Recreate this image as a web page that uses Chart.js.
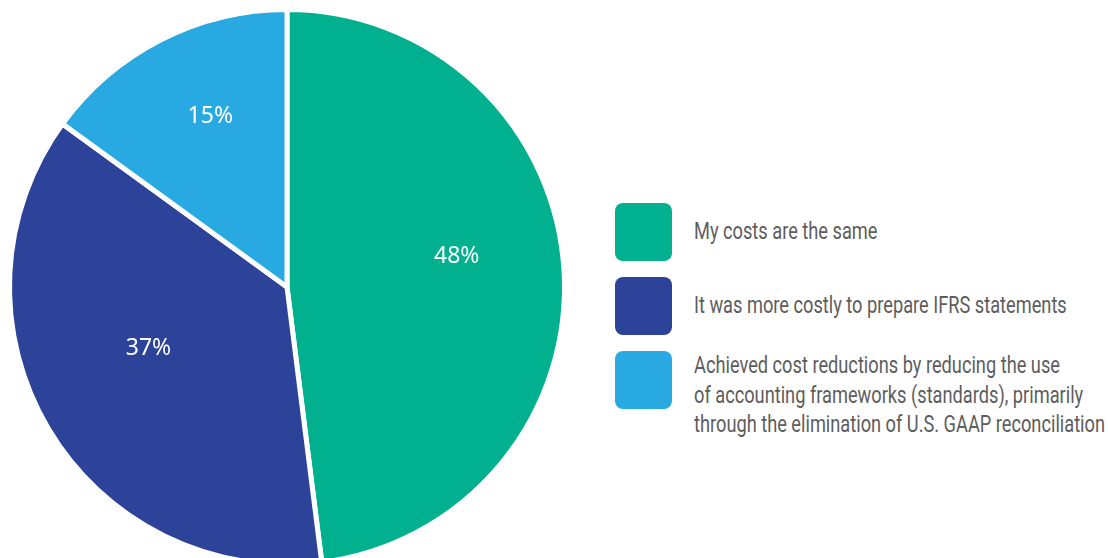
<!DOCTYPE html>
<html>
<head>
<meta charset="utf-8">
<script src="https://cdn.jsdelivr.net/npm/chart.js@4"></script>
<style>
  html, body { margin: 0; padding: 0; width: 1108px; height: 558px; overflow: hidden; background: #fff; }
  #pieWrap { position: absolute; left: 0; top: 0; width: 574px; height: 574px; }
  #legend { position: absolute; left: 615px; top: 203px; }
  .item { position: relative; height: 74px; }
  .sw { position: absolute; left: 0; top: 0; width: 57px; height: 58px; border-radius: 8px; }
  .txt { position: absolute; left: 79px; color: #5d5d5d;
         font-family: Roboto, "Noto Sans", sans-serif;
         font-size: 24px; line-height: 29.5px; white-space: nowrap; transform-origin: 0 0; }
</style>
</head>
<body>
<div id="pieWrap"><canvas id="c"></canvas></div>
<div id="legend"></div>
<script>
const categories = [
  ["My costs are the same"],
  ["It was more costly to prepare IFRS statements"],
  ["Achieved cost reductions by reducing the use", "of accounting frameworks (standards), primarily", "through the elimination of U.S. GAAP reconciliation"]
];
const values = [48, 37, 15];
const colors = ["#00b08f", "#2c4399", "#29a9e1"];

// condensed look: measure the longest line and squeeze horizontally
const mctx = document.createElement('canvas').getContext('2d');
mctx.font = '24px Roboto';
const longest = Math.max(...categories.flat().map(s => mctx.measureText(s).width));
const squeeze = 411 / longest;

const legend = document.getElementById('legend');
categories.forEach((lines, i) => {
  const item = document.createElement('div');
  item.className = 'item';
  const sw = document.createElement('div');
  sw.className = 'sw';
  sw.style.background = colors[i];
  item.appendChild(sw);
  const t = document.createElement('div');
  t.className = 'txt';
  t.style.top = (lines.length === 1 ? 14 : 0) + 'px';
  t.style.transform = 'scaleX(' + squeeze + ')';
  t.innerHTML = lines.join('<br>');
  item.appendChild(t);
  legend.appendChild(item);
});

const pctLabels = {
  id: 'pctLabels',
  afterDatasetsDraw(chart, args, opts) {
    const ctx = chart.ctx;
    const meta = chart.getDatasetMeta(0);
    ctx.save();
    ctx.fillStyle = '#ffffff';
    ctx.font = '23px "Noto Sans", "Open Sans", sans-serif';
    ctx.textAlign = 'center';
    ctx.textBaseline = 'middle';
    meta.data.forEach((arc, i) => {
      const p = arc.getProps(['x', 'y', 'startAngle', 'endAngle', 'outerRadius'], true);
      const mid = (p.startAngle + p.endAngle) / 2;
      const r = p.outerRadius * opts.radius[i];
      const x = p.x + Math.cos(mid) * r;
      const y = p.y + Math.sin(mid) * r + opts.shiftY;
      ctx.fillText(chart.data.datasets[0].data[i] + '%', x, y);
    });
    ctx.restore();
  }
};

new Chart(document.getElementById('c'), {
  type: 'pie',
  data: {
    labels: categories.map(l => l.join(' ')),
    datasets: [{
      data: values,
      backgroundColor: colors,
      borderColor: '#ffffff',
      borderWidth: 5
    }]
  },
  options: {
    responsive: true,
    maintainAspectRatio: false,
    animation: false,
    layout: { padding: 7 },
    plugins: {
      legend: { display: false },
      tooltip: { enabled: false },
      pctLabels: { radius: [0.613, 0.58, 0.609], shiftY: -20 }
    }
  },
  plugins: [pctLabels]
});
</script>
</body>
</html>
